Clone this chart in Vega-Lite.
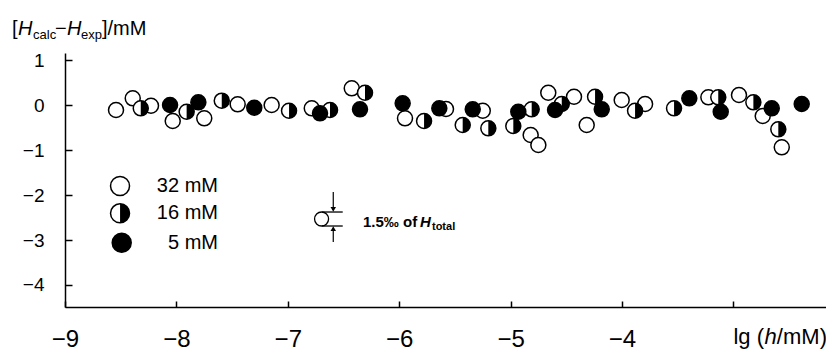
{
  "$schema": "https://vega.github.io/schema/vega-lite/v6.json",
  "width": 761,
  "height": 254,
  "autosize": {"type": "none"},
  "padding": {"left": 65, "top": 53, "right": 0, "bottom": 45},
  "background": "white",
  "config": {
    "view": {"stroke": null},
    "font": "Liberation Sans",
    "axis": {"domainColor": "black", "tickColor": "black", "labelColor": "black", "domainWidth": 1.5, "tickWidth": 1.5, "grid": false, "labelFont": "Liberation Sans", "labelFlush": false, "labelOverlap": false}
  },
  "datasets": {
    "points": [
      {"x": -8.542, "y": -0.111, "c": "32 mM"}, {"x": -8.392, "y": 0.149, "c": "32 mM"}, {"x": -8.228, "y": -0.016, "c": "32 mM"}, {"x": -8.033, "y": -0.356, "c": "32 mM"}, {"x": -7.750, "y": -0.296, "c": "32 mM"}, {"x": -7.450, "y": 0.016, "c": "32 mM"}, {"x": -7.145, "y": 0.0, "c": "32 mM"}, {"x": -6.785, "y": -0.073, "c": "32 mM"}, {"x": -6.426, "y": 0.371, "c": "32 mM"}, {"x": -5.948, "y": -0.296, "c": "32 mM"}, {"x": -5.580, "y": -0.089, "c": "32 mM"}, {"x": -5.250, "y": -0.127, "c": "32 mM"}, {"x": -4.820, "y": -0.667, "c": "32 mM"}, {"x": -4.751, "y": -0.889, "c": "32 mM"}, {"x": -4.662, "y": 0.273, "c": "32 mM"}, {"x": -4.431, "y": 0.184, "c": "32 mM"}, {"x": -4.317, "y": -0.444, "c": "32 mM"}, {"x": -4.003, "y": 0.111, "c": "32 mM"}, {"x": -3.793, "y": 0.022, "c": "32 mM"}, {"x": -3.225, "y": 0.171, "c": "32 mM"}, {"x": -2.950, "y": 0.222, "c": "32 mM"}, {"x": -2.737, "y": -0.244, "c": "32 mM"}, {"x": -2.566, "y": -0.940, "c": "32 mM"},
      {"x": -8.320, "y": -0.073, "c": "16 mM"}, {"x": -7.908, "y": -0.149, "c": "16 mM"}, {"x": -7.593, "y": 0.096, "c": "16 mM"}, {"x": -6.989, "y": -0.127, "c": "16 mM"}, {"x": -6.621, "y": -0.111, "c": "16 mM"}, {"x": -6.307, "y": 0.273, "c": "16 mM"}, {"x": -5.777, "y": -0.356, "c": "16 mM"}, {"x": -5.430, "y": -0.444, "c": "16 mM"}, {"x": -5.200, "y": -0.518, "c": "16 mM"}, {"x": -4.976, "y": -0.467, "c": "16 mM"}, {"x": -4.811, "y": -0.096, "c": "16 mM"}, {"x": -4.541, "y": 0.022, "c": "16 mM"}, {"x": -4.242, "y": 0.184, "c": "16 mM"}, {"x": -3.883, "y": -0.127, "c": "16 mM"}, {"x": -3.533, "y": -0.073, "c": "16 mM"}, {"x": -3.136, "y": 0.171, "c": "16 mM"}, {"x": -2.821, "y": 0.060, "c": "16 mM"}, {"x": -2.597, "y": -0.540, "c": "16 mM"},
      {"x": -8.057, "y": 0.0, "c": "5 mM"}, {"x": -7.803, "y": 0.060, "c": "5 mM"}, {"x": -7.301, "y": -0.060, "c": "5 mM"}, {"x": -6.711, "y": -0.184, "c": "5 mM"}, {"x": -6.352, "y": -0.096, "c": "5 mM"}, {"x": -5.969, "y": 0.038, "c": "5 mM"}, {"x": -5.640, "y": -0.073, "c": "5 mM"}, {"x": -5.340, "y": -0.096, "c": "5 mM"}, {"x": -4.931, "y": -0.149, "c": "5 mM"}, {"x": -4.601, "y": -0.111, "c": "5 mM"}, {"x": -4.182, "y": -0.096, "c": "5 mM"}, {"x": -3.396, "y": 0.149, "c": "5 mM"}, {"x": -3.114, "y": -0.149, "c": "5 mM"}, {"x": -2.656, "y": -0.073, "c": "5 mM"}, {"x": -2.387, "y": 0.022, "c": "5 mM"}
    ],
    "legend": [
      {"x": -8.506, "y": -1.80, "c": "32 mM", "tx": -7.627},
      {"x": -8.506, "y": -2.407, "c": "16 mM", "tx": -7.627},
      {"x": -8.491, "y": -3.06, "c": "5 mM", "tx": -7.627}
    ]
  },
  "encoding": {
    "x": {"field": "x", "type": "quantitative", "scale": {"domain": [-9, -2.169], "nice": false, "zero": false},
      "axis": {"values": [-9, -8, -7, -6, -5, -4, -3], "labelExpr": "datum.value == -3 ? '' : datum.label", "title": null, "tickSize": -6, "labelPadding": 26, "labelFontSize": 24}},
    "y": {"field": "y", "type": "quantitative", "scale": {"domain": [-4.489, 1.156], "nice": false, "zero": false},
      "axis": {"values": [-4, -3, -2, -1, 0, 1], "title": null, "tickSize": -7, "labelPadding": 28, "labelFontSize": 19}}
  },
  "layer": [
    {
      "data": {"name": "points"},
      "mark": {"type": "point", "shape": "circle", "size": 225, "filled": true, "stroke": "black", "strokeWidth": 1.5, "opacity": 1},
      "encoding": {"fill": {"field": "c", "type": "nominal", "scale": {"domain": ["32 mM", "16 mM", "5 mM"], "range": ["white", "white", "black"]}, "legend": null}}
    },
    {
      "data": {"name": "points"},
      "transform": [{"filter": "datum.c == '16 mM'"}],
      "mark": {"type": "point", "shape": "M0,-1A1,1 0 0 1 0,1Z", "size": 225, "filled": true, "fill": "black", "strokeWidth": 0, "opacity": 1}
    },
    {
      "data": {"name": "legend"},
      "mark": {"type": "point", "shape": "circle", "size": 361, "filled": true, "stroke": "black", "strokeWidth": 1.5, "opacity": 1},
      "encoding": {"fill": {"field": "c", "type": "nominal", "legend": null}}
    },
    {
      "data": {"name": "legend"},
      "transform": [{"filter": "datum.c == '16 mM'"}],
      "mark": {"type": "point", "shape": "M0,-1A1,1 0 0 1 0,1Z", "size": 361, "filled": true, "fill": "black", "strokeWidth": 0, "opacity": 1}
    },
    {
      "data": {"name": "legend"},
      "mark": {"type": "text", "align": "right", "baseline": "middle", "fontSize": 20, "color": "black"},
      "encoding": {"x": {"field": "tx", "type": "quantitative"}, "text": {"field": "c"}}
    },
    {
      "data": {"values": [{"x": -6.697, "y": -2.533}]},
      "mark": {"type": "point", "shape": "circle", "size": 196, "filled": true, "fill": "white", "stroke": "black", "strokeWidth": 1.3, "opacity": 1}
    },
    {
      "data": {"values": [{"x": -6.693, "x2": -6.507, "y": -2.378}, {"x": -6.693, "x2": -6.507, "y": -2.689}]},
      "mark": {"type": "rule", "color": "black", "strokeWidth": 1.3},
      "encoding": {"x2": {"field": "x2"}}
    },
    {
      "data": {"values": [{"x": -6.592, "y": -1.933, "y2": -2.33}, {"x": -6.592, "y": -3.044, "y2": -2.74}]},
      "mark": {"type": "rule", "color": "black", "strokeWidth": 1.2},
      "encoding": {"y2": {"field": "y2"}}
    },
    {
      "data": {"values": [{"x": -6.592, "y": -2.32}]},
      "mark": {"type": "point", "shape": "triangle-down", "size": 30, "filled": true, "color": "black", "opacity": 1}
    },
    {
      "data": {"values": [{"x": -6.592, "y": -2.745}]},
      "mark": {"type": "point", "shape": "triangle-up", "size": 30, "filled": true, "color": "black", "opacity": 1}
    },
    {
      "data": {"values": [{"x": -6.325, "y": -2.711, "t": "1.5‰ of"}]},
      "mark": {"type": "text", "align": "left", "baseline": "alphabetic", "fontSize": 15, "fontWeight": "bold", "color": "black"},
      "encoding": {"text": {"field": "t"}}
    },
    {
      "data": {"values": [{"x": -5.813, "y": -2.711, "t": "H"}]},
      "mark": {"type": "text", "align": "left", "baseline": "alphabetic", "fontSize": 15, "fontWeight": "bold", "fontStyle": "italic", "color": "black"},
      "encoding": {"text": {"field": "t"}}
    },
    {
      "data": {"values": [{"x": -5.706, "y": -2.778, "t": "total"}]},
      "mark": {"type": "text", "align": "left", "baseline": "alphabetic", "fontSize": 11, "fontWeight": "bold", "color": "black"},
      "encoding": {"text": {"field": "t"}}
    },
    {
      "data": {"values": [{"x": -9.476, "y": 1.556, "t": "["}, {"x": -9.090, "y": 1.556, "t": "−"}, {"x": -8.668, "y": 1.556, "t": "]/mM"}]},
      "mark": {"type": "text", "align": "left", "baseline": "alphabetic", "fontSize": 20, "color": "black"},
      "encoding": {"text": {"field": "t"}}
    },
    {
      "data": {"values": [{"x": -9.422, "y": 1.556, "t": "H"}, {"x": -8.982, "y": 1.556, "t": "H"}]},
      "mark": {"type": "text", "align": "left", "baseline": "alphabetic", "fontSize": 20, "fontStyle": "italic", "color": "black"},
      "encoding": {"text": {"field": "t"}}
    },
    {
      "data": {"values": [{"x": -9.287, "y": 1.467, "t": "calc"}, {"x": -8.856, "y": 1.467, "t": "exp"}]},
      "mark": {"type": "text", "align": "left", "baseline": "alphabetic", "fontSize": 13, "color": "black"},
      "encoding": {"text": {"field": "t"}}
    },
    {
      "data": {"values": [{"x": -3.0, "y": -5.156, "t": "lg ("}, {"x": -2.610, "y": -5.156, "t": "/mM)"}]},
      "mark": {"type": "text", "align": "left", "baseline": "middle", "fontSize": 22, "color": "black"},
      "encoding": {"text": {"field": "t"}}
    },
    {
      "data": {"values": [{"x": -2.720, "y": -5.156, "t": "h"}]},
      "mark": {"type": "text", "align": "left", "baseline": "middle", "fontSize": 22, "fontStyle": "italic", "color": "black"},
      "encoding": {"text": {"field": "t"}}
    }
  ]
}
